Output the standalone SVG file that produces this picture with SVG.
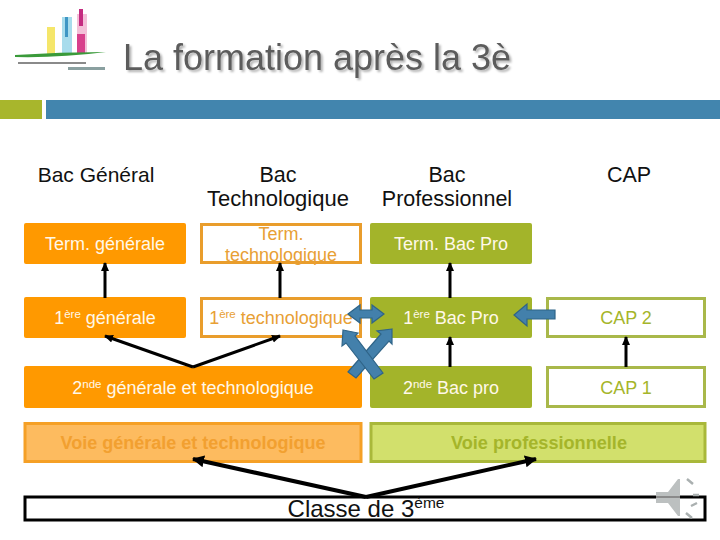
<svg xmlns="http://www.w3.org/2000/svg" width="720" height="540" viewBox="0 0 720 540">
<defs>
<marker id="ah" markerUnits="userSpaceOnUse" markerWidth="10" markerHeight="10" refX="8" refY="4" orient="auto"><path d="M0 0L9 4L0 8Z" fill="#000"/></marker>
<marker id="ahb" markerUnits="userSpaceOnUse" markerWidth="14" markerHeight="14" refX="11" refY="6" orient="auto"><path d="M0 0L12 6L0 12Z" fill="#000"/></marker>
<filter id="sh" x="-5%" y="-20%" width="110%" height="140%"><feDropShadow dx="2" dy="2" stdDeviation="0.8" flood-color="#000" flood-opacity="0.3"/></filter>
</defs>
<style>
text{font-family:"Liberation Sans",Arial,sans-serif;text-anchor:middle}
.h{font-size:21.500px;fill:#111}
.w{font-size:18px;fill:#fff8e8}
.o{font-size:18px;fill:#e8a035}
.g{font-size:18px;fill:#a5b52a}
.sup{font-size:11.500px}
.or{fill:#f90}
.ol{fill:#fff;stroke:#e99d2c;stroke-width:3}
.gr{fill:#a3b42a}
.gl{fill:#fff;stroke:#a9b84a;stroke-width:3}
.c{fill:none;stroke:#000;stroke-width:3}
.d{stroke:#2f6488;stroke-width:1.200;fill:#4380ab}
</style>
<rect width="720" height="540" fill="#fff"/>
<g id="logo">
<rect x="47" y="27" width="8" height="28" fill="#f5e66a"/>
<rect x="62" y="17" width="10" height="38" fill="#a8dcec"/>
<rect x="65" y="17" width="3" height="20" fill="#3e96c4"/>
<rect x="77" y="14" width="10" height="39" fill="#f3c0d8"/>
<rect x="79" y="9" width="4" height="17" fill="#c42c80"/>
<rect x="77" y="34" width="8" height="19" fill="#d8408c"/>
<path d="M15 55Q60 52 106 52Q60 58 15 57Z" fill="#3a9a3a"/>
<rect x="18" y="62" width="68" height="2" fill="#8a8a8a"/>
<rect x="68" y="67" width="37" height="3" fill="#8aa0a0"/>
</g>
<text x="317" y="70" font-size="36" fill="#5c5c5c" filter="url(#sh)">La formation après la 3è</text>
<rect x="0" y="100" width="42" height="19" fill="#a8b62c"/>
<rect x="46" y="100" width="674" height="19" fill="#4285ae"/>
<g id="headers">
<text class="h" x="96" y="182" style="font-size:21px">Bac Général</text>
<text class="h" x="278" y="182">Bac</text><text class="h" x="278" y="206" style="font-size:22px">Technologique</text>
<text class="h" x="447" y="182">Bac</text><text class="h" x="447" y="206">Professionnel</text>
<text class="h" x="629" y="182">CAP</text>
</g>
<g id="term-gen"><rect class="or" x="24" y="223" width="162" height="41" rx="2"/><text class="w" x="105" y="250">Term. générale</text></g>
<g id="term-tech"><rect class="ol" x="201.500" y="224.500" width="159" height="38"/><text class="o" x="281" y="240">Term.</text><text class="o" x="281" y="261">technologique</text></g>
<g id="term-pro"><rect class="gr" x="370" y="223" width="162" height="41" rx="2"/><text class="w" x="451" y="250">Term. Bac Pro</text></g>
<g id="prem-gen"><rect class="or" x="24" y="297" width="162" height="41" rx="2"/><text class="w" x="105" y="324">1<tspan class="sup" dy="-6">ère</tspan><tspan dy="6"> générale</tspan></text></g>
<g id="prem-tech"><rect class="ol" x="201.500" y="298.500" width="159" height="38"/><text class="o" x="281" y="324">1<tspan class="sup" dy="-6">ère</tspan><tspan dy="6"> technologique</tspan></text></g>
<g id="prem-pro"><rect class="gr" x="370" y="297" width="162" height="41" rx="2"/><text class="w" x="451" y="324">1<tspan class="sup" dy="-6">ère</tspan><tspan dy="6"> Bac Pro</tspan></text></g>
<g id="cap2"><rect class="gl" x="547.500" y="298.500" width="157" height="38"/><text class="g" x="626" y="324">CAP 2</text></g>
<g id="sec-gt"><rect class="or" x="24" y="366" width="338" height="42" rx="2"/><text class="w" x="193" y="394">2<tspan class="sup" dy="-6">nde</tspan><tspan dy="6"> générale et technologique</tspan></text></g>
<g id="sec-pro"><rect class="gr" x="370" y="366" width="162" height="42" rx="2"/><text class="w" x="451" y="394">2<tspan class="sup" dy="-6">nde</tspan><tspan dy="6"> Bac pro</tspan></text></g>
<g id="cap1"><rect class="gl" x="547.500" y="367.500" width="157" height="39"/><text class="g" x="626" y="394">CAP 1</text></g>
<g id="voie-gt"><rect x="25" y="423.500" width="336" height="38" fill="#fdbb5f" stroke="#f5a026" stroke-width="3"/><text x="193" y="449" font-size="18" font-weight="bold" fill="#f2a030" textLength="265" lengthAdjust="spacingAndGlyphs">Voie générale et technologique</text></g>
<g id="voie-pro"><rect x="371" y="423.500" width="334" height="38" fill="#d2e06c" stroke="#a9b83a" stroke-width="3"/><text x="539" y="449" font-size="18" font-weight="bold" fill="#a5b52a" textLength="176" lengthAdjust="spacingAndGlyphs">Voie professionnelle</text></g>
<g id="classe"><rect x="25" y="497" width="680" height="23" fill="#fff" stroke="#000" stroke-width="3"/><text x="366" y="517" font-size="24" fill="#111">Classe de 3<tspan font-size="15.500" dy="-9">ème</tspan></text></g>
<g id="connectors">
<path class="c" d="M105 298V263" marker-end="url(#ah)"/>
<path class="c" d="M280 298V263" marker-end="url(#ah)"/>
<path class="c" d="M450 298V263" marker-end="url(#ah)"/>
<path class="c" d="M450 367V337" marker-end="url(#ah)"/>
<path class="c" d="M626 367V337" marker-end="url(#ah)"/>
<path class="c" d="M193 367L105 336" marker-end="url(#ah)"/>
<path class="c" d="M193 367L280 336" marker-end="url(#ah)"/>
<path d="M366 497L193 459" fill="none" stroke="#000" stroke-width="4" marker-end="url(#ahb)"/>
<path d="M366 497L536 459" fill="none" stroke="#000" stroke-width="4" marker-end="url(#ahb)"/>
<path class="d" d="M348 314L360 305V310H372V305L384 314L372 323V318H360V323Z"/>
<path class="d" d="M514 315L527 304V310H555V319H527V326Z"/>
<path class="d" d="M392 329L377 331L381 334L348 372L356 378L389 341L392 344Z"/>
<path class="d" d="M343 330L358 333L355 336L383 373L374 379L346 343L342 346Z"/>
</g>
<g id="speaker">
<path d="M656 492L668 492L678 479H680V516H678L668 503L656 503Z" fill="#bcc0c0"/>
<path d="M656 497H680" stroke="#8a8a8a" stroke-width="2"/>
<path d="M687 479L693 484M693 495H699M691 506L697 503M686 513L692 518" stroke="#aab0b0" stroke-width="2.500" fill="none"/>
</g>
</svg>
